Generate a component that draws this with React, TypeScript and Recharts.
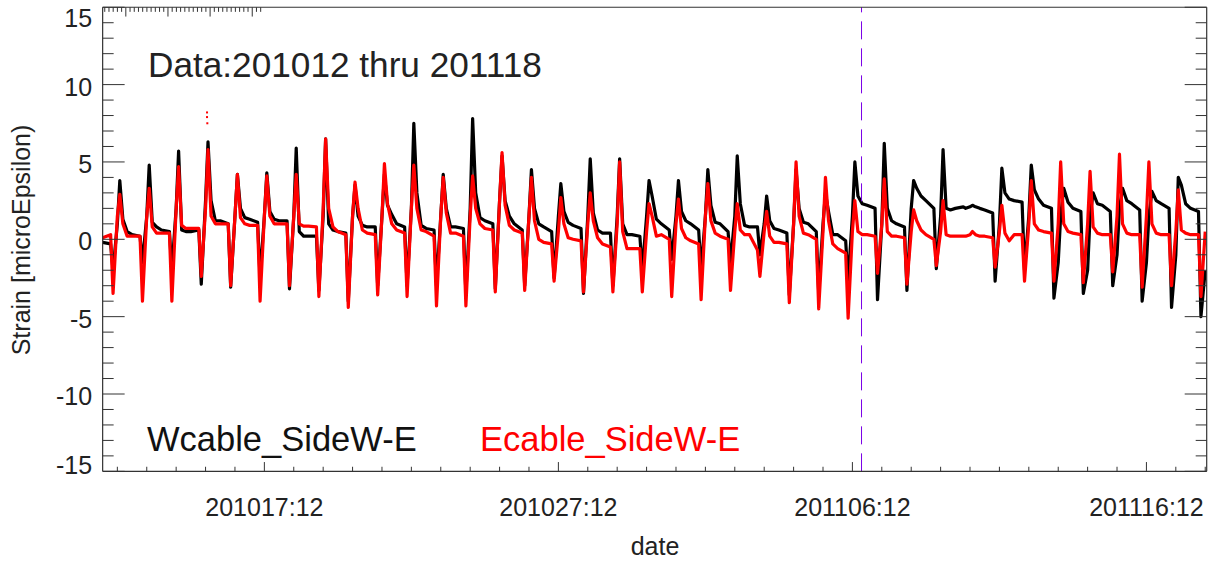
import React from 'react';
import { ComposedChart, Line, XAxis, YAxis, ReferenceLine, Scatter } from 'recharts';

const FONT = '"Liberation Sans", Arial, Helvetica, sans-serif';
const TEXT = '#222';
const AXIS = '#333';

// hour-of-day of each sample in the daily rows below
const HOURS = [0, 6.5, 8.5, 12, 14, 16.5, 20];

// Wcable_SideW-E (black), one row per day starting 2020-10-12 00:00
const wcableDaily: number[][] = [
  [-0.2, -0.3, -2.0, 1.0, 3.8, 1.3, 0.5],
  [0.3, 0.2, -1.5, 1.5, 4.8, 1.1, 0.8],
  [0.6, 0.5, -2.0, 2.0, 5.7, 0.6, 0.5],
  [0.5, 0.6, -2.9, 2.5, 6.3, 2.5, 1.2],
  [1.2, 1.0, -3.1, 1.5, 4.2, 2.0, 1.4],
  [1.3, 1.1, -2.5, 1.5, 4.3, 1.8, 1.3],
  [1.2, 1.2, -3.2, 1.5, 5.9, 0.5, 0.2],
  [0.2, 0.2, -3.3, 1.5, 6.5, 1.0, 0.6],
  [0.5, 0.4, -4.0, 1.5, 3.5, 1.5, 0.9],
  [0.8, 0.8, -3.0, 1.5, 4.2, 2.2, 1.6],
  [1.0, 0.8, -3.0, 2.0, 7.5, 3.0, 0.9],
  [0.7, 0.6, -3.0, 1.5, 4.2, 2.0, 0.8],
  [0.8, 0.7, -3.5, 2.0, 7.8, 3.0, 1.4],
  [1.2, 1.0, -3.2, 2.5, 5.4, 2.5, 1.5],
  [1.0, 0.6, -3.0, 1.5, 4.5, 2.0, 1.0],
  [0.8, 0.5, -2.5, 1.5, 3.6, 1.8, 1.1],
  [0.9, 0.7, -3.5, 1.5, 5.2, 1.7, 0.6],
  [0.4, 0.4, -3.0, 1.5, 5.2, 1.0, 0.3],
  [0.3, 0.2, -2.0, 1.5, 3.8, 2.8, 1.3],
  [1.0, 0.6, -1.3, 1.5, 3.8, 1.8, 1.2],
  [1.0, 0.6, -2.0, 1.5, 4.5, 2.2, 1.1],
  [1.0, 0.5, -1.5, 1.5, 5.4, 2.3, 0.9],
  [0.8, 0.8, -1.0, 1.0, 2.8, 1.2, 0.7],
  [0.6, 0.4, -3.6, 1.0, 4.5, 2.0, 1.1],
  [1.0, 0.5, -3.5, 1.0, 3.0, 1.8, 0.3],
  [0.3, -0.1, -2.7, 1.5, 5.0, 2.8, 2.3],
  [2.2, 2.0, -3.9, 1.0, 6.2, 2.0, 1.2],
  [1.0, 0.8, -3.3, 2.0, 3.8, 3.3, 2.8],
  [2.5, 2.0, -1.9, 1.5, 5.8, 2.0, 1.9],
  [2.0, 2.1, 2.0, 2.1, 2.2, 2.1, 2.0],
  [1.9, 1.7, -2.7, 1.0, 4.6, 3.0, 2.6],
  [2.5, 2.4, -2.0, 1.5, 4.8, 3.2, 2.6],
  [2.2, 2.0, -3.8, -1.5, 1.5, 3.3, 2.4],
  [2.0, 1.8, -3.5, -2.0, 1.5, 3.0, 2.3],
  [2.2, 1.8, -3.0, -1.0, 2.0, 3.3, 2.5],
  [2.3, 1.9, -4.0, -1.5, 1.5, 3.1, 2.5],
  [2.3, 2.0, -4.4, -1.0, 4.0, 3.5, 2.3],
  [2.0, 1.8, -5.0, -2.0],
];

// Ecable_SideW-E (red)
const ecableDaily: number[][] = [
  [0.1, 0.3, -3.5, 1.5, 2.9, 1.0, 0.2],
  [0.2, 0.2, -4.0, 1.5, 3.3, 0.8, 0.4],
  [0.4, 0.4, -4.0, 2.0, 4.7, 0.9, 0.7],
  [0.7, 0.7, -2.4, 2.0, 5.8, 1.5, 1.0],
  [1.0, 1.0, -3.0, 1.5, 4.2, 1.4, 1.0],
  [0.9, 0.9, -4.0, 1.5, 4.1, 1.5, 1.0],
  [1.0, 1.0, -3.0, 1.5, 4.2, 1.0, 0.85],
  [0.85, 0.8, -3.7, 2.0, 6.5, 2.0, 0.8],
  [0.5, 0.3, -4.4, 1.5, 3.7, 2.0, 0.6],
  [0.4, 0.3, -3.6, 1.5, 4.9, 2.3, 1.0],
  [0.6, 0.4, -3.7, 2.0, 4.8, 2.0, 0.6],
  [0.5, 0.2, -4.3, 1.5, 4.0, 1.7, 0.4],
  [0.4, 0.2, -4.3, 1.5, 4.1, 2.0, 1.0],
  [0.7, 0.6, -3.4, 2.5, 5.6, 2.2, 0.9],
  [0.6, 0.4, -3.3, 1.5, 4.0, 1.2, 0.0],
  [-0.2, -0.3, -2.7, 0.5, 2.7, 1.0, 0.1],
  [0.0, -0.1, -3.4, 1.0, 3.0, 1.2, 0.1],
  [-0.3, -0.5, -3.4, 1.0, 5.0, 0.5, -0.6],
  [-0.6, -0.6, -3.4, 0.5, 2.3, 1.5, 0.2],
  [0.3, 0.0, -3.7, 1.0, 2.6, 0.7, 0.1],
  [-0.1, -0.3, -3.9, 1.5, 3.6, 1.2, 0.4],
  [0.2, 0.0, -3.3, 0.5, 2.3, 0.6, 0.3],
  [0.3, -0.7, -2.4, 0.5, 1.8, 0.2, -0.2],
  [-0.2, -0.3, -4.1, 1.0, 5.0, 1.5, 0.4],
  [0.3, 0.0, -4.5, 0.5, 4.0, 1.2, -0.3],
  [-0.6, -0.9, -5.1, 0.5, 2.5, 0.5, 0.3],
  [0.3, 0.2, -2.2, 1.0, 3.9, 0.5, 0.2],
  [0.2, 0.1, -2.9, 0.5, 1.9, 1.2, 0.6],
  [0.3, 0.0, -1.7, 0.5, 2.5, 0.3, 0.2],
  [0.2, 0.2, 0.2, 0.3, 0.5, 0.3, 0.2],
  [0.2, 0.1, -1.8, 0.5, 2.2, 0.4, -0.1],
  [0.3, 0.3, -2.7, 1.0, 3.8, 1.0, 0.6],
  [0.5, 0.4, -2.7, 1.0, 5.0, 1.0, 0.5],
  [0.4, 0.3, -2.8, 1.0, 4.4, 0.8, 0.4],
  [0.3, 0.3, -2.1, 1.5, 5.5, 1.0, 0.4],
  [0.3, 0.3, -3.1, 1.5, 5.0, 1.0, 0.4],
  [0.3, 0.3, -3.0, 0.5, 3.2, 0.6, 0.4],
  [0.3, 0.3, -3.7, 0.5],
];

const ecableOutliers = [
  { t: 3.55, v: 8.2 },
  { t: 3.55, v: 7.9 },
  { t: 3.56, v: 7.5 },
];

const X_MAX = 37.55;
const DASH_T = 25.81;

const xTicks = [
  0.5, 1.5, 2.5, 3.5, 4.5, 5.5, 6.5, 7.5, 8.5, 9.5, 10.5, 11.5, 12.5, 13.5, 14.5, 15.5, 16.5, 17.5, 18.5,
  19.5, 20.5, 21.5, 22.5, 23.5, 24.5, 25.5, 26.5, 27.5, 28.5, 29.5, 30.5, 31.5, 32.5, 33.5, 34.5, 35.5,
  36.5, 37.5,
];
const xMajorTicks = [5.5, 15.5, 25.5, 35.5];
const xTickLabels = ['201017:12', '201027:12', '201106:12', '201116:12'];
const yTicks = [
  -15, -14, -13, -12, -11, -10, -9, -8, -7, -6, -5, -4, -3, -2, -1, 0, 1, 2, 3, 4, 5, 6, 7, 8, 9, 10, 11,
  12, 13, 14, 15,
];

const data: { t: number; w?: number; e?: number }[] = [];
wcableDaily.forEach((row, d) => {
  row.forEach((w, i) => {
    data.push({ t: d + HOURS[i] / 24, w, e: ecableDaily[d][i] });
  });
});

const BottomTick = (props: any) => {
  const { x, y, payload } = props;
  const idx = xMajorTicks.indexOf(payload.value);
  const major = idx >= 0;
  return (
    <g>
      <line x1={x} x2={x} y1={y} y2={y - (major ? 9.3 : 4.6)} stroke={AXIS} strokeWidth={1} />
      {major && (
        <text x={x} y={y + 44.5} textAnchor="middle" fontSize={25} fontFamily={FONT} fill={TEXT}>
          {xTickLabels[idx]}
        </text>
      )}
    </g>
  );
};

const TopTick = (props: any) => {
  const { x, y, payload } = props;
  const major = xMajorTicks.indexOf(payload.value) >= 0;
  return <line x1={x} x2={x} y1={y} y2={y + (major ? 9.3 : 4.6)} stroke={AXIS} strokeWidth={1} />;
};

const LeftTick = (props: any) => {
  const { x, y, payload } = props;
  const v = payload.value;
  const major = v % 5 === 0;
  const dy = v === 15 ? 11 : v === -15 ? -6 : 2;
  return (
    <g>
      <line x1={x} x2={x + (major ? 22 : 11)} y1={y} y2={y} stroke={AXIS} strokeWidth={1} />
      {major && (
        <text x={x - 10.5} y={y + dy + 9} textAnchor="end" fontSize={25} fontFamily={FONT} fill={TEXT}>
          {String(v)}
        </text>
      )}
    </g>
  );
};

const RightTick = (props: any) => {
  const { x, y, payload } = props;
  const major = payload.value % 5 === 0;
  return <line x1={x} x2={x - (major ? 22 : 11)} y1={y} y2={y} stroke={AXIS} strokeWidth={1} />;
};

const OutlierDot = (p: any) => <rect x={p.cx - 1} y={p.cy - 1} width={2} height={2} fill="#ff0000" />;

export default function App() {
  return (
    <div style={{ position: 'absolute', left: 0, top: 0, width: 1223, height: 561, background: '#fff' }}>
      <ComposedChart width={1223} height={561} data={data} margin={{ top: 0, right: 0, bottom: 0, left: 0 }}>
        <XAxis
          xAxisId="b"
          dataKey="t"
          type="number"
          domain={[0, X_MAX]}
          allowDataOverflow
          ticks={xTicks}
          interval={0}
          orientation="bottom"
          height={89.65}
          tickSize={0}
          tickMargin={0}
          tickLine={false}
          axisLine={{ stroke: AXIS, strokeWidth: 1.2 }}
          tick={BottomTick}
        />
        <XAxis
          xAxisId="t"
          type="number"
          domain={[0, X_MAX]}
          allowDataOverflow
          ticks={xTicks}
          interval={0}
          orientation="top"
          height={7.25}
          tickSize={0}
          tickMargin={0}
          tickLine={false}
          axisLine={{ stroke: AXIS, strokeWidth: 1.2 }}
          tick={TopTick}
        />
        <YAxis
          yAxisId="l"
          type="number"
          domain={[-15, 15]}
          allowDataOverflow
          ticks={yTicks}
          interval={0}
          orientation="left"
          width={102.65}
          tickSize={0}
          tickMargin={0}
          tickLine={false}
          axisLine={{ stroke: AXIS, strokeWidth: 1.2 }}
          tick={LeftTick}
        />
        <YAxis
          yAxisId="r"
          type="number"
          domain={[-15, 15]}
          allowDataOverflow
          ticks={yTicks}
          interval={0}
          orientation="right"
          width={16.3}
          tickSize={0}
          tickMargin={0}
          tickLine={false}
          axisLine={{ stroke: AXIS, strokeWidth: 1.2 }}
          tick={RightTick}
        />
        <Line
          xAxisId="b"
          yAxisId="l"
          type="linear"
          dataKey="w"
          stroke="#000000"
          strokeWidth={3.2}
          strokeLinejoin="round"
          dot={false}
          isAnimationActive={false}
        />
        <Line
          xAxisId="b"
          yAxisId="l"
          type="linear"
          dataKey="e"
          stroke="#ff0000"
          strokeWidth={3.2}
          strokeLinejoin="round"
          dot={false}
          isAnimationActive={false}
        />
        <Scatter
          xAxisId="b"
          yAxisId="l"
          data={ecableOutliers}
          dataKey="v"
          shape={OutlierDot}
          isAnimationActive={false}
        />
        <ReferenceLine
          xAxisId="b"
          yAxisId="l"
          x={DASH_T}
          stroke="#7a00e6"
          strokeWidth={1}
          strokeDasharray="18 9"
        />
      </ComposedChart>
      <svg
        width={1223}
        height={561}
        style={{ position: 'absolute', left: 0, top: 0, pointerEvents: 'none' }}
      >
        <text x={148} y={77} fontSize={35.2} fontFamily={FONT} fill={TEXT}>
          Data:201012 thru 201118
        </text>
        <text x={147} y={451} fontSize={34.5} fontFamily={FONT} fill="#111">
          Wcable_SideW-E
        </text>
        <text x={480} y={451} fontSize={34.5} fontFamily={FONT} fill="#ff0000">
          Ecable_SideW-E
        </text>
        <text x={655} y={555} textAnchor="middle" fontSize={25} fontFamily={FONT} fill={TEXT}>
          date
        </text>
        <text
          x={29.5}
          y={240}
          transform="rotate(-90, 29.5, 240)"
          textAnchor="middle"
          fontSize={25}
          fontFamily={FONT}
          fill={TEXT}
        >
          Strain [microEpsilon)
        </text>
      </svg>
    </div>
  );
}
